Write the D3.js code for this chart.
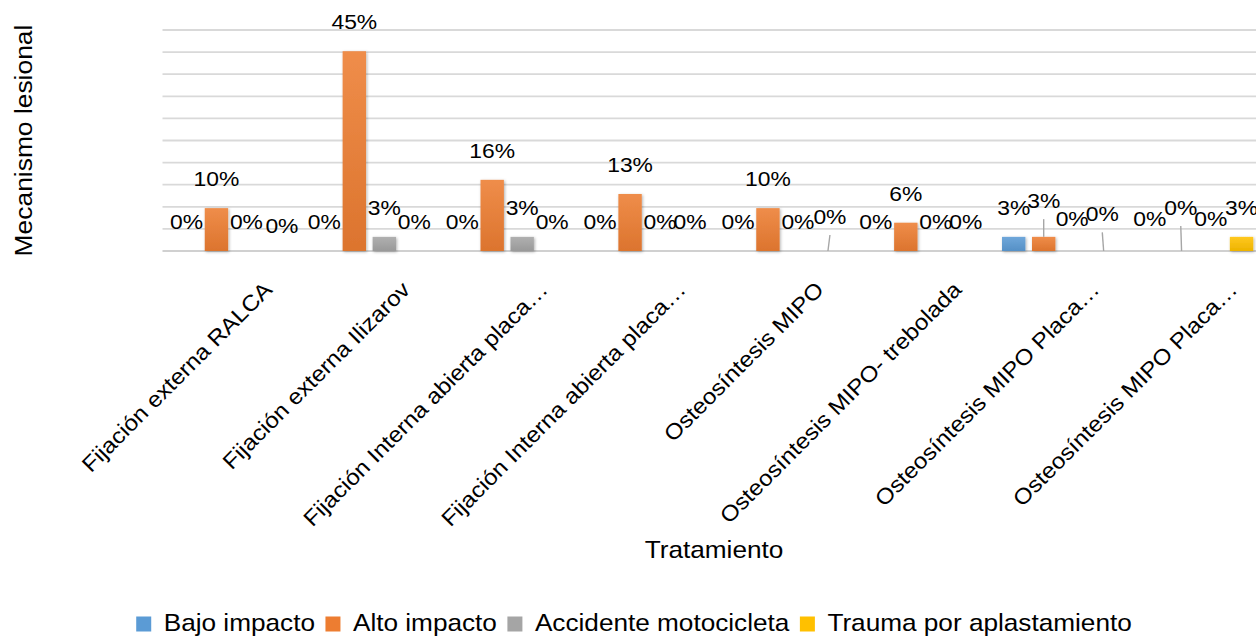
<!DOCTYPE html>
<html>
<head>
<meta charset="utf-8">
<script src="https://cdn.jsdelivr.net/npm/d3@7"></script>
<style>
  body { margin: 0; background: #fff; }
  svg { display: block; font-family: "Liberation Sans", Arial, sans-serif; }
</style>
</head>
<body>
<div id="chart-area"></div>
<script>
// categorias (tratamiento) - os rótulos vêm cortados com "…" como no gráfico original
const categories = [
    'Fijación externa RALCA',
    'Fijación externa Ilizarov',
    'Fijación Interna abierta placa…',
    'Fijación Interna abierta placa…',
    'Osteosíntesis MIPO',
    'Osteosíntesis MIPO- trebolada',
    'Osteosíntesis MIPO Placa…',
    'Osteosíntesis MIPO Placa…'
];
const seriesNames = ['Bajo impacto', 'Alto impacto', 'Accidente motocicleta', 'Trauma por aplastamiento'];

// valores em %
const bajoImpacto = [0, 0, 0, 0, 0, 0, 3.2, 0];
const altoImpacto = [9.7, 45.2, 16.1, 12.9, 9.7, 6.4, 3.2, 0];
const accidenteMotocicleta = [0, 3.2, 3.2, 0, 0, 0, 0, 0];
const traumaAplastamiento = [0, 0, 0, 0, 0, 0, 0, 3.2];
const yTicks = [0, 5, 10, 15, 20, 25, 30, 35, 40, 45, 50];

const seriesValues = [bajoImpacto, altoImpacto, accidenteMotocicleta, traumaAplastamiento];
const colors = ['#5B9BD5', '#ED7D31', '#A5A5A5', '#FFC000'];

// ajustes dos rótulos que o Excel afasta (com linha guia)
const labelNudges = [
    { g: 0, s: 3, dx: 5.5, dy: 4 },
    { g: 4, s: 3, dx: 2, dy: -5, leader: true },
    { g: 6, s: 1, dx: 0, dy: -6.7, leader: true },
    { g: 6, s: 2, dx: -1.5, dy: -2.6 },
    { g: 6, s: 3, dx: -1.4, dy: -7.6, leader: true },
    { g: 7, s: 0, dx: -1.8, dy: -2.6 },
    { g: 7, s: 1, dx: -0.8, dy: -14, leader: true },
    { g: 7, s: 2, dx: -0.8, dy: -2.6 }
];

const width = 1256, height = 639;
const stretch = 1.1; // o texto do original é um pouco mais largo
const plot = { left: 162.5, right: 1265.5, top: 30, bottom: 251 };

const svg = d3.select('#chart-area').append('svg')
    .attr('width', width)
    .attr('height', height);

// gradientes e sombra das barras
const defs = svg.append('defs');
colors.forEach((c, i) => {
    const grad = defs.append('linearGradient')
        .attr('id', 'grad' + i)
        .attr('x1', 0).attr('y1', 0).attr('x2', 0).attr('y2', 1);
    grad.append('stop').attr('offset', '0%').attr('stop-color', d3.interpolateRgb(c, '#fff')(0.12));
    grad.append('stop').attr('offset', '100%').attr('stop-color', d3.interpolateRgb(c, '#000')(0.07));
});
const shadow = defs.append('filter').attr('id', 'shadow')
    .attr('x', '-30%').attr('y', '-30%').attr('width', '160%').attr('height', '160%');
shadow.append('feDropShadow')
    .attr('dx', 1).attr('dy', 1).attr('stdDeviation', 1.6)
    .attr('flood-color', '#000').attr('flood-opacity', 0.3);

// escalas
const x0 = d3.scaleBand()
    .domain(d3.range(categories.length))
    .range([plot.left, plot.right])
    .paddingInner(0.13)
    .paddingOuter(0.065);

const x1 = d3.scaleBand()
    .domain(d3.range(seriesNames.length))
    .range([0, x0.bandwidth()])
    .paddingInner(0.22)
    .paddingOuter(0.11);

const y = d3.scaleLinear()
    .domain([0, 50])
    .range([plot.bottom, plot.top]);

// linhas de grade
svg.append('g')
    .selectAll('line')
    .data(yTicks)
    .enter()
    .append('line')
    .attr('x1', plot.left)
    .attr('x2', plot.right)
    .attr('y1', d => y(d))
    .attr('y2', d => y(d))
    .attr('stroke', d => d === 0 ? '#D0D0D0' : '#D9D9D9')
    .attr('stroke-width', 1.8);

// dados achatados por grupo/série
const cells = [];
categories.forEach((c, g) => {
    seriesNames.forEach((s, si) => {
        const nudge = labelNudges.find(n => n.g === g && n.s === si) || { dx: 0, dy: 0 };
        cells.push({ g, s: si, value: seriesValues[si][g], nudge });
    });
});
const barX = d => x0(d.g) + x1(d.s);
const barCx = d => barX(d) + x1.bandwidth() / 2;

// barras
svg.append('g')
    .selectAll('rect')
    .data(cells.filter(d => d.value > 0))
    .enter()
    .append('rect')
    .attr('x', barX)
    .attr('y', d => y(d.value))
    .attr('width', x1.bandwidth())
    .attr('height', d => y(0) - y(d.value))
    .attr('fill', d => `url(#grad${d.s})`)
    .attr('filter', 'url(#shadow)');

// linhas guia dos rótulos afastados
svg.append('g')
    .selectAll('line')
    .data(cells.filter(d => d.nudge.leader))
    .enter()
    .append('line')
    .attr('x1', d => barCx(d) + d.nudge.dx)
    .attr('y1', d => y(d.value) - 22 + d.nudge.dy + 11)
    .attr('x2', barCx)
    .attr('y2', d => y(d.value))
    .attr('stroke', '#A6A6A6')
    .attr('stroke-width', 1.4);

// rótulos de dados
const fmt = d3.format('.0%');
svg.append('g')
    .selectAll('text')
    .data(cells)
    .enter()
    .append('text')
    .attr('transform', d => `translate(${barCx(d) + d.nudge.dx}, ${y(d.value) - 22 + d.nudge.dy}) scale(${stretch},1)`)
    .attr('text-anchor', 'middle')
    .attr('font-size', '20.8px')
    .attr('fill', '#000')
    .text(d => fmt(d.value / 100));

// eixo X com rótulos girados
const xAxis = svg.append('g')
    .attr('transform', `translate(0, ${plot.bottom})`)
    .call(d3.axisBottom(x0).tickSize(0).tickFormat(i => categories[i]));
xAxis.select('.domain').remove();
xAxis.selectAll('text')
    .attr('x', 0)
    .attr('y', 0)
    .attr('dy', 0)
    .attr('text-anchor', 'end')
    .attr('transform', `translate(42, 40) rotate(-45) scale(${stretch},1)`)
    .attr('font-size', '22px')
    .attr('font-family', '"Liberation Sans", Arial, sans-serif')
    .attr('fill', '#000');

// títulos dos eixos
svg.append('text')
    .attr('transform', `translate(${(plot.left + plot.right) / 2}, 557.7) scale(${stretch},1)`)
    .attr('text-anchor', 'middle')
    .attr('font-size', '23.8px')
    .text('Tratamiento');

svg.append('text')
    .attr('transform', `translate(31.5, ${(plot.top + plot.bottom) / 2}) rotate(-90) scale(${stretch},1)`)
    .attr('text-anchor', 'middle')
    .attr('font-size', '24px')
    .text('Mecanismo lesional');

// legenda
const legend = svg.append('g');
const items = legend.selectAll('g')
    .data(seriesNames)
    .enter()
    .append('g');
items.append('rect')
    .attr('width', 15)
    .attr('height', 15)
    .attr('y', -14)
    .attr('fill', (d, i) => colors[i]);
items.append('text')
    .attr('transform', `translate(27.5, 0) scale(${stretch},1)`)
    .attr('font-size', '23.8px')
    .text(d => d);

let offset = 0;
items.each(function() {
    const w = 27.5 + this.querySelector('text').getComputedTextLength() * stretch;
    d3.select(this).attr('transform', `translate(${offset}, 0)`);
    offset += w + 10.5;
});
const legendWidth = offset - 10.5;
legend.attr('transform', `translate(${634 - legendWidth / 2}, 630.5)`);
</script>
</body>
</html>
